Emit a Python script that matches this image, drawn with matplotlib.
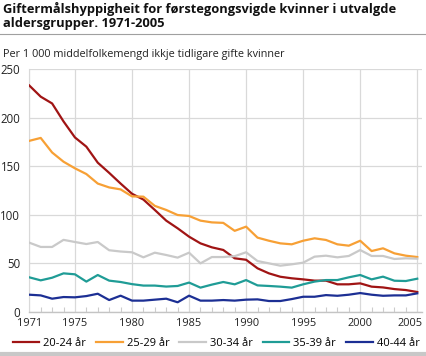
import numpy as np
import matplotlib
matplotlib.use("Agg")
import matplotlib.pyplot as plt
import matplotlib.transforms as mtransforms
from matplotlib.lines import Line2D

plt.rcParams.update({"font.family": ["Open Sans", "DejaVu Sans"], "font.size": 8})

years = list(range(1971, 2006))

age_20_24 = [233, 221.5, 214.5, 196, 179.5, 170, 153.5, 143, 132, 121.5,
             115.5, 104.8, 93.8, 85.9, 77.3, 70.4, 66.3, 63.6, 55, 53.5,
             44.7, 39.5, 36, 34.4, 33.3, 32, 32, 28.2, 28.2, 29.2,
             25.8, 25, 23.3, 22.3, 20.3]
age_25_29 = [176, 179, 164, 154.5, 147.7, 141.8, 132, 128, 126, 118.8,
             118.5, 109, 104.8, 99.6, 98.6, 93.8, 92, 91.5, 83.3, 87.6,
             76.3, 73.1, 70.4, 69.4, 73.1, 75.6, 73.9, 69.4, 68, 73.1,
             62.5, 65.3, 60.1, 57.7, 56.3]
age_30_34 = [71.1, 66.7, 66.7, 74, 71.8, 69.7, 71.8, 63.3, 62, 61.2,
             56, 60.8, 58.4, 55.7, 60.8, 49.8, 56.3, 56.3, 57.2, 61.2,
             52.2, 49.8, 47.4, 48.8, 50.5, 56.7, 57.7, 56, 57.4, 63.5,
             57.4, 57.4, 54.3, 55, 54.6]
age_35_39 = [35.4, 32.3, 35, 39.5, 38.5, 31, 37.8, 32, 30.6, 28.4,
             26.9, 26.9, 25.9, 26.5, 30, 24.8, 27.9, 30.6, 28.2, 32.6,
             27.1, 26.5, 25.8, 24.8, 28.2, 31, 32.6, 32.6, 35.4, 37.8,
             33.3, 36.1, 31.9, 31.6, 34]
age_40_44 = [17.5, 16.8, 13.4, 15.1, 14.8, 16.1, 18.5, 12, 16.5, 11.4,
             11.4, 12.4, 13.4, 9.7, 16.5, 11.4, 11.4, 12, 11.4, 12.4,
             12.7, 11, 11, 13, 15.4, 15.4, 17.1, 16.4, 17.5, 19.2,
             17.5, 16.4, 16.8, 16.8, 18.9]

series = [
    ("20-24 år", age_20_24, "#a01414"),
    ("25-29 år", age_25_29, "#f7a035"),
    ("30-34 år", age_30_34, "#c9c9c9"),
    ("35-39 år", age_35_39, "#1f9c96"),
    ("40-44 år", age_40_44, "#1c2f94"),
]

W, H = 426, 356
fig = plt.figure(figsize=(W / 100, H / 100), dpi=100)
ax = fig.add_axes([29.3 / W, (H - 311.7) / H, (421.7 - 29.3) / W, (311.7 - 69) / H])

for label, vals, col in series:
    ax.plot(years, vals, color=col, linewidth=1.6, label=label, zorder=3,
            solid_joinstyle="round")

ax.set_xlim(1971, 2005.39)
ax.set_ylim(0, 250)
ax.set_yticks([0, 50, 100, 150, 200, 250])
ax.set_xticks([1971, 1975, 1980, 1985, 1990, 1995, 2000, 2005])
ax.set_xticks(years, minor=True)
ax.grid(True, color="#d9d9d9", linewidth=0.9, zorder=0)
ax.tick_params(axis="y", length=0, pad=6.5, labelsize=8.3, colors="#222222")
ax.tick_params(axis="x", which="major", length=0, pad=4.5, labelsize=7.9, colors="#222222")
ax.tick_params(axis="x", which="minor", length=3.6, width=0.8, color="#cccccc", direction="in")
for s in ["top", "right"]:
    ax.spines[s].set_visible(False)
ax.spines["left"].set_color("#d9d9d9")
ax.spines["bottom"].set_color("#c4c4c4")
ax.spines["bottom"].set_linewidth(1.0)

# last year label is pulled in so it stays inside the picture
last = ax.get_xticklabels()[-1]
last.set_horizontalalignment("right")
last.set_transform(last.get_transform() + mtransforms.ScaledTranslation(5 / 100, 0, fig.dpi_scale_trans))


def fit(t, width_px):
    # shrink/grow text so it spans the width seen in the reference
    r = fig.canvas.get_renderer()
    w = t.get_window_extent(renderer=r).width
    t.set_fontsize(t.get_fontsize() * width_px / w)


t1 = fig.text(3 / W, 1 - 12.5 / H, "Giftermålshyppigheit for førstegongsvigde kvinner i utvalgde",
              fontsize=9, fontweight="bold", va="baseline", color="#111111")
fit(t1, 392)
t2 = fig.text(3 / W, 1 - 27.5 / H, "aldersgrupper. 1971-2005",
              fontsize=t1.get_fontsize(), fontweight="bold", va="baseline", color="#111111")
fig.add_artist(Line2D([0, 1], [1 - 33.5 / H, 1 - 33.5 / H], color="#a0a0a0", linewidth=0.8))
t3 = fig.text(3 / W, 1 - 57 / H, "Per 1 000 middelfolkemengd ikkje tidligare gifte kvinner",
              fontsize=7.6, va="baseline", color="#222222")
fit(t3, 279)

fig.legend(loc="center", bbox_to_anchor=(216 / W, 1 - 343 / H), ncol=5, frameon=False,
           fontsize=8.0, handlelength=2.4, columnspacing=0.9, handletextpad=0.35,
           borderpad=0, borderaxespad=0)
fig.add_artist(Line2D([0, 1], [1 - 354 / H, 1 - 354 / H], color="#c8c8c8", linewidth=3))

fig.savefig("out.png", dpi=100)
